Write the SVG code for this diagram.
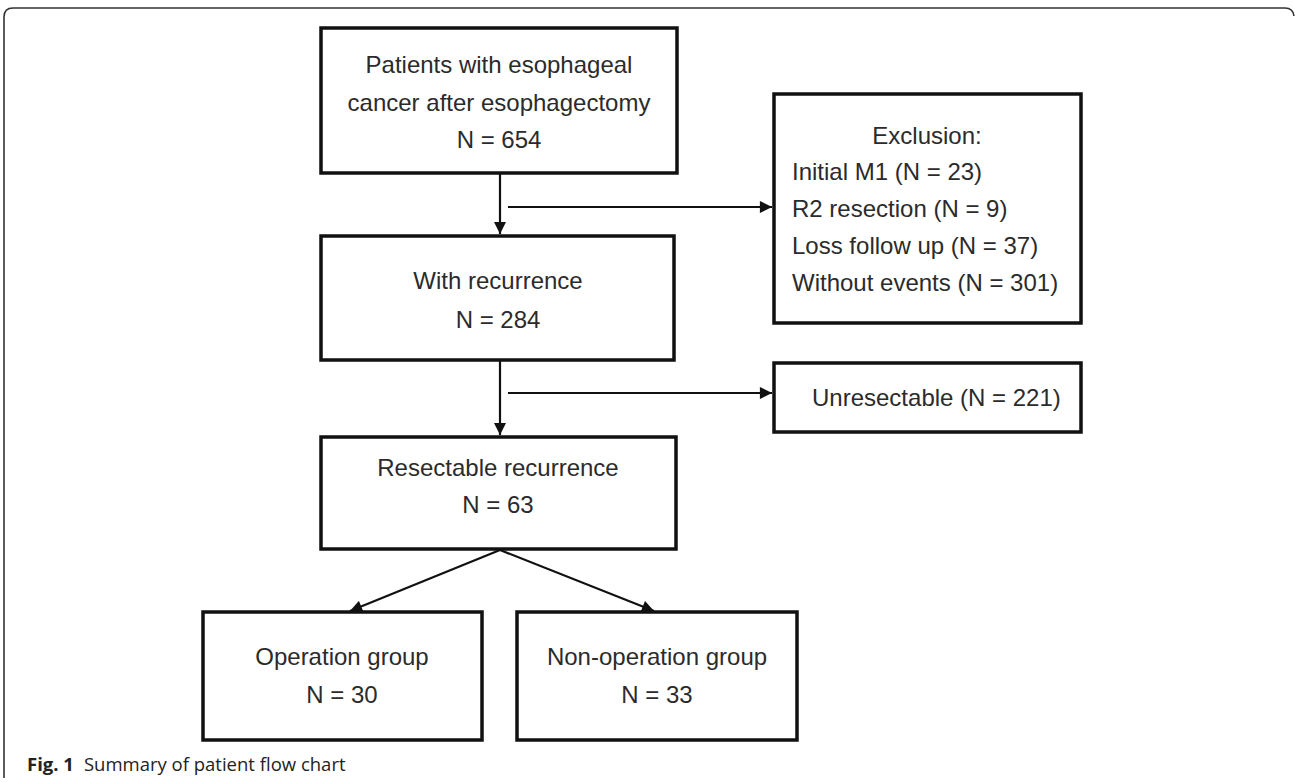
<svg xmlns="http://www.w3.org/2000/svg" width="1295" height="782" viewBox="0 0 1295 782">
<style>
.box{fill:#fff;stroke:#111;stroke-width:3.5}
.t{font-family:"Liberation Sans",Arial,sans-serif;font-size:24px;fill:#2b2b2b}
.c{text-anchor:middle}
.ln{stroke:#111;stroke-width:2.2;fill:none}
.cap{font-family:"Open Sans","Noto Sans",sans-serif;font-size:18.5px;fill:#222}
</style>
<defs>
<marker id="ah" viewBox="0 0 10 10" refX="10" refY="5" markerWidth="6" markerHeight="5.5" orient="auto" markerUnits="strokeWidth">
<path d="M0,0 L10,5 L0,10 z" fill="#111"/>
</marker>
</defs>
<rect width="1295" height="782" fill="#fff"/>
<path d="M4,778 L4,17 Q4,8 13,8 L1285,8 Q1293,8 1294,16" fill="none" stroke="#333" stroke-width="1.6"/>
<g id="connectors">
<line class="ln" x1="500" y1="174" x2="500" y2="234" marker-end="url(#ah)"/>
<line class="ln" x1="508" y1="207" x2="772" y2="207" marker-end="url(#ah)"/>
<line class="ln" x1="500" y1="361" x2="500" y2="435" marker-end="url(#ah)"/>
<line class="ln" x1="508" y1="393" x2="772" y2="393" marker-end="url(#ah)"/>
<line class="ln" x1="500" y1="550" x2="350" y2="611" marker-end="url(#ah)"/>
<line class="ln" x1="500" y1="550" x2="654" y2="611" marker-end="url(#ah)"/>
</g>
<g id="n1">
<rect class="box" x="321" y="28" width="356" height="145"/>
<text class="t c" x="499" y="73">Patients with esophageal</text>
<text class="t c" x="499" y="111">cancer after esophagectomy</text>
<text class="t c" x="499" y="148">N = 654</text>
</g>
<g id="n2">
<rect class="box" x="774" y="94" width="307" height="229"/>
<text class="t c" x="927" y="144">Exclusion:</text>
<text class="t" x="792" y="180">Initial M1 (N = 23)</text>
<text class="t" x="792" y="217">R2 resection (N = 9)</text>
<text class="t" x="792" y="254">Loss follow up (N = 37)</text>
<text class="t" x="792" y="291">Without events (N = 301)</text>
</g>
<g id="n3">
<rect class="box" x="321" y="236" width="353" height="124"/>
<text class="t c" x="498" y="289">With recurrence</text>
<text class="t c" x="498" y="328">N = 284</text>
</g>
<g id="n4">
<rect class="box" x="774" y="363" width="307" height="69"/>
<text class="t" x="812" y="406">Unresectable (N = 221)</text>
</g>
<g id="n5">
<rect class="box" x="321" y="437" width="355" height="112"/>
<text class="t c" x="498" y="476">Resectable recurrence</text>
<text class="t c" x="498" y="513">N = 63</text>
</g>
<g id="n6">
<rect class="box" x="203" y="612" width="279" height="128"/>
<text class="t c" x="342" y="665">Operation group</text>
<text class="t c" x="342" y="703">N = 30</text>
</g>
<g id="n7">
<rect class="box" x="517" y="612" width="280" height="128"/>
<text class="t c" x="657" y="665">Non-operation group</text>
<text class="t c" x="657" y="703">N = 33</text>
</g>
<text class="cap" x="27" y="771"><tspan font-weight="bold">Fig. 1</tspan><tspan dx="10">Summary of patient flow chart</tspan></text>
</svg>
